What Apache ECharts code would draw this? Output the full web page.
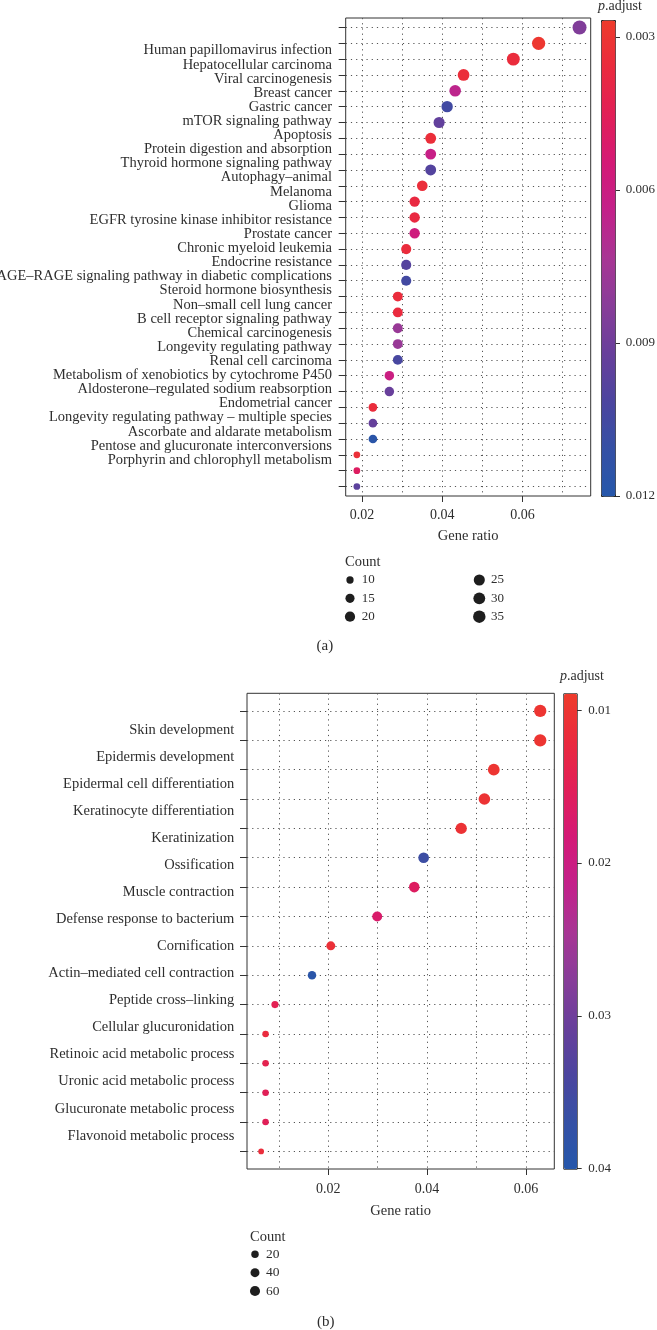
<!DOCTYPE html>
<html><head><meta charset="utf-8">
<script src="https://cdn.jsdelivr.net/npm/echarts@6/dist/echarts.min.js"></script>
<style>html,body{margin:0;padding:0;background:#fff}#c{width:657px;height:1330px}</style>
</head><body><div id="c"></div>
<script>
// ---------- DATA: panel (a) KEGG ----------
const catsA = ["Human papillomavirus infection","Hepatocellular carcinoma","Viral carcinogenesis","Breast cancer","Gastric cancer","mTOR signaling pathway","Apoptosis","Protein digestion and absorption","Thyroid hormone signaling pathway","Autophagy–animal","Melanoma","Glioma","EGFR tyrosine kinase inhibitor resistance","Prostate cancer","Chronic myeloid leukemia","Endocrine resistance","AGE–RAGE signaling pathway in diabetic complications","Steroid hormone biosynthesis","Non–small cell lung cancer","B cell receptor signaling pathway","Chemical carcinogenesis","Longevity regulating pathway","Renal cell carcinoma","Metabolism of xenobiotics by cytochrome P450","Aldosterone–regulated sodium reabsorption","Endometrial cancer","Longevity regulating pathway – multiple species","Ascorbate and aldarate metabolism","Pentose and glucuronate interconversions","Porphyrin and chlorophyll metabolism"];
const ratioA = [0.0742,0.0640,0.0577,0.0453,0.0432,0.0412,0.0392,0.0371,0.0371,0.0371,0.0350,0.0331,0.0331,0.0331,0.0310,0.0310,0.0310,0.0289,0.0289,0.0289,0.0289,0.0289,0.0268,0.0268,0.0227,0.0227,0.0227,0.0187,0.0187,0.0187];
const countA = [36,31,28,22,21,20,19,18,18,18,17,16,16,16,15,15,15,14,14,14,14,14,13,13,11,11,11,9,9,9];
const padjA = [0.0085,0.0029,0.0035,0.0034,0.0066,0.0106,0.0094,0.0034,0.0062,0.0099,0.0034,0.0037,0.0037,0.0058,0.0035,0.0098,0.0105,0.0035,0.0036,0.0078,0.0078,0.0103,0.0060,0.0092,0.0035,0.0093,0.0117,0.0033,0.0048,0.0096];
const xTicksA = [0.02,0.04,0.06];
const xGridA = [0.02,0.03,0.04,0.05,0.06,0.07];
const cbarTicksA = [0.003,0.006,0.009,0.012];
const legendCountsA = [10,15,20,25,30,35];

// ---------- DATA: panel (b) GO ----------
const catsB = ["Skin development","Epidermis development","Epidermal cell differentiation","Keratinocyte differentiation","Keratinization","Ossification","Muscle contraction","Defense response to bacterium","Cornification","Actin–mediated cell contraction","Peptide cross–linking","Cellular glucuronidation","Retinoic acid metabolic process","Uronic acid metabolic process","Glucuronate metabolic process","Flavonoid metabolic process"];
const ratioB = [0.0629,0.0629,0.0535,0.0516,0.0469,0.0393,0.0374,0.0299,0.0205,0.0167,0.0092,0.0073,0.0073,0.0073,0.0073,0.0064];
const countB = [68,68,58,56,51,42,40,32,22,18,10,8,8,8,8,7];
const padjB = [0.0100,0.0100,0.0100,0.0104,0.0105,0.0360,0.0160,0.0170,0.0110,0.0390,0.0145,0.0120,0.0140,0.0150,0.0150,0.0115];
const xTicksB = [0.02,0.04,0.06];
const xGridB = [0.01,0.02,0.03,0.04,0.05,0.06];
const cbarTicksB = [0.01,0.02,0.03,0.04];
const legendCountsB = [20,40,60];

// ---------- STYLE ----------
const FONT = 'Liberation Serif';
const TXT = '#2e2e2e';
const LINE = '#333';
const GRAD = ['#EE3B2B','#EA2A3E','#E11F58','#D41976','#C3218A','#A83594','#883D99','#683F9B','#4C459F','#3550A5','#2557AA'];
const DOT = {type:[1.2,4], color:'#555', width:1};

function sizeScale(counts, dmin, dmax){
  const cmin = Math.min(...counts), cmax = Math.max(...counts);
  return c => dmin + (dmax-dmin)*Math.sqrt(Math.max(0, Math.min(1,(c-cmin)/(cmax-cmin))));
}
const sizeA = sizeScale(countA, 6.7, 14);
const sizeB = sizeScale(countB, 5.7, 12.3);
const idx = arr => arr.map((_, i) => i);
const fmt = v => String(Math.round(v*1000)/1000);

const tf = (size) => ({fontFamily:FONT, fontSize:size, color:TXT, fontWeight:'normal'});

const grids = [
  {left:345.7, top:18, width:245, height:478, show:true, borderColor:LINE, borderWidth:1, outerBoundsMode:'none'}, //0 main A
  {left:345.7, top:43.6, width:245, height:423.4, outerBoundsMode:'none'},   //1 labels A
  {left:601, top:20, width:14, height:476, outerBoundsMode:'none'},           //2 cbar A
  {left:350, top:580, width:129.3, height:36.7, outerBoundsMode:'none'},      //3 legend A
  {left:247, top:693.3, width:307.3, height:475.7, show:true, borderColor:LINE, borderWidth:1, outerBoundsMode:'none'}, //4 main B
  {left:247, top:716.5, width:307.3, height:432.8, outerBoundsMode:'none'},   //5 labels B
  {left:563.3, top:693.3, width:13.4, height:475.4, outerBoundsMode:'none'},  //6 cbar B
  {left:255, top:1254.3, width:100, height:36.7, outerBoundsMode:'none'}      //7 legend B
];

function visXAxis(g, min, max, ticks, margin, nameGap){
  return {gridIndex:g, type:'value', min, max,
    axisLine:{show:false, onZero:false},
    axisTick:{show:true, length:6, customValues:ticks, lineStyle:{color:LINE}},
    axisLabel:{customValues:ticks, margin, ...tf(14)},
    splitLine:{show:false},
    name:'Gene ratio', nameLocation:'middle', nameGap, nameTextStyle:tf(14.5)};
}
function gridXAxis(g, min, max, lines){
  return {gridIndex:g, type:'value', min, max, position:'bottom',
    axisLine:{show:false, onZero:false}, axisTick:{show:false, customValues:lines},
    axisLabel:{show:false}, splitLine:{show:true, lineStyle:DOT}};
}
function mainYAxis(g, n){
  return {gridIndex:g, type:'value', min:-0.6, max:n-1+0.6, inverse:true,
    axisLine:{show:false, onZero:false},
    axisTick:{show:true, length:7, customValues:idx(Array(n).fill(0)), lineStyle:{color:LINE}},
    axisLabel:{show:false}, splitLine:{show:true, lineStyle:DOT}};
}
function labelYAxis(g, cats, margin){
  return {gridIndex:g, type:'category', data:cats, inverse:true, boundaryGap:true,
    axisLine:{show:false}, axisTick:{show:false}, splitLine:{show:false},
    axisLabel:{interval:0, margin, ...tf(14.5)}};
}
function cbarYAxis(g, min, max, ticks, margin){
  return {gridIndex:g, type:'value', min, max, inverse:true, position:'right',
    axisLine:{show:false, onZero:false},
    axisTick:{show:true, length:5, customValues:ticks, lineStyle:{color:LINE}},
    axisLabel:{customValues:ticks, margin, formatter:fmt, ...tf(13)},
    splitLine:{show:false}};
}
const hiddenX = (g, min, max) => ({gridIndex:g, type:'value', show:false, min, max});
const hiddenY = (g, min, max) => ({gridIndex:g, type:'value', show:false, min, max, inverse:true});
const padjTitle = (left, top) => ({text:'{i|p}.adjust', left, top, padding:0,
  textStyle:{...tf(14), rich:{i:{fontStyle:'italic', fontWeight:'normal', fontFamily:FONT, fontSize:14, color:TXT}}}});

const option = {
  animation:false,
  backgroundColor:'#fff',
  textStyle:{fontFamily:FONT},
  grid:grids,
  xAxis:[
    visXAxis(0, 0.01592, 0.07698, xTicksA, 12, 33), //0
    gridXAxis(0, 0.01592, 0.07698, xGridA),          //1
    hiddenX(1, 0, 1),                                //2
    hiddenX(2, 0, 1),                                //3
    hiddenX(3, 0, 1),                                //4
    visXAxis(4, 0.00354, 0.06575, xTicksB, 13, 35), //5
    gridXAxis(4, 0.00354, 0.06575, xGridB),          //6
    hiddenX(5, 0, 1),                                //7
    hiddenX(6, 0, 1),                                //8
    hiddenX(7, 0, 1)                                 //9
  ],
  yAxis:[
    mainYAxis(0, catsA.length),                      //0
    labelYAxis(1, catsA, 13.7),                      //1
    cbarYAxis(2, 0.00267, 0.012, cbarTicksA, 10.7),  //2
    hiddenY(3, 0, 2),                                //3
    mainYAxis(4, catsB.length),                      //4
    labelYAxis(5, catsB, 12.7),                      //5
    cbarYAxis(6, 0.0089, 0.04, cbarTicksB, 11.6),    //6
    hiddenY(7, 0, 2)                                 //7
  ],
  visualMap:[
    {type:'continuous', seriesIndex:0, dimension:3, min:0.00267, max:0.012, inverse:true,
     calculable:false, hoverLink:false, left:601, top:20, itemWidth:14, itemHeight:476, padding:0,
     text:null, inRange:{color:GRAD}, borderColor:'#222', borderWidth:1},
    {type:'continuous', seriesIndex:2, dimension:3, min:0.0089, max:0.04, inverse:true,
     calculable:false, hoverLink:false, left:563.3, top:693.3, itemWidth:13.4, itemHeight:475.4, padding:0,
     text:null, inRange:{color:GRAD}, borderColor:'#222', borderWidth:1}
  ],
  title:[
    padjTitle(598, -1),
    padjTitle(560, 669.7),
    {text:'Count', left:345, top:555, padding:0, textStyle:tf(14.5)},
    {text:'Count', left:250, top:1229.7, padding:0, textStyle:tf(14.5)},
    {text:'(a)', left:316.5, top:639, padding:0, textStyle:tf(15)},
    {text:'(b)', left:317, top:1315, padding:0, textStyle:tf(15)}
  ],
  series:[
    {type:'scatter', xAxisIndex:0, yAxisIndex:0, z:5,
     data:ratioA.map((r,i)=>[r, i, countA[i], padjA[i]]),
     symbolSize:v=>sizeA(v[2]), itemStyle:{opacity:1}},
    {type:'scatter', xAxisIndex:4, yAxisIndex:3, z:5,
     data:legendCountsA.map((c,i)=>[Math.floor(i/3), i%3, c]),
     symbolSize:v=>sizeA(v[2])*0.9, itemStyle:{color:'#1e1e1e', opacity:1},
     label:{show:true, position:'inside', align:'left', verticalAlign:'middle', offset:[11.7,0],
            formatter:p=>String(p.value[2]), textBorderWidth:0, ...tf(13)}},
    {type:'scatter', xAxisIndex:5, yAxisIndex:4, z:5,
     data:ratioB.map((r,i)=>[r, i, countB[i], padjB[i]]),
     symbolSize:v=>sizeB(v[2]), itemStyle:{opacity:1}},
    {type:'scatter', xAxisIndex:9, yAxisIndex:7, z:5,
     data:legendCountsB.map((c,i)=>[Math.floor(i/3), i%3, c]),
     symbolSize:v=>sizeB(v[2])*0.85, itemStyle:{color:'#1e1e1e', opacity:1},
     label:{show:true, position:'inside', align:'left', verticalAlign:'middle', offset:[11,0],
            formatter:p=>String(p.value[2]), textBorderWidth:0, ...tf(13.5)}}
  ]
};
const chart = echarts.init(document.getElementById('c'), null, {renderer:'canvas'});
chart.setOption(option);
</script></body></html>
